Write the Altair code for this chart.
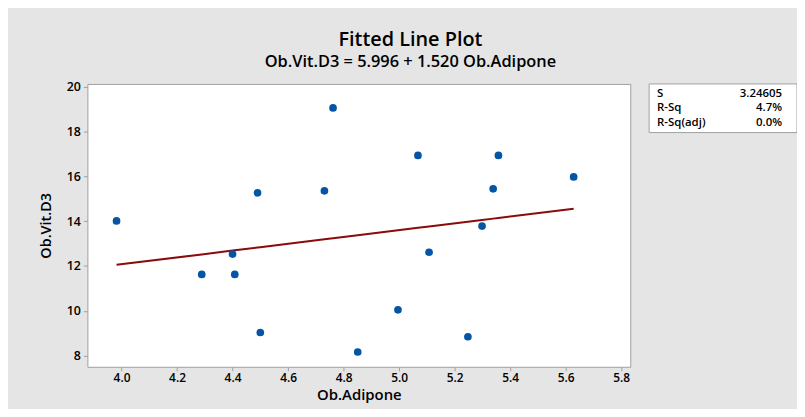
import altair as alt
import pandas as pd

# Data
adipone = [3.982, 4.289, 4.400, 4.408, 4.490, 4.500, 4.731, 4.762, 4.851,
           4.996, 5.068, 5.108, 5.248, 5.299, 5.339, 5.358, 5.629]
vitd3 = [14.01, 11.62, 12.53, 11.62, 15.26, 9.03, 15.35, 19.05, 8.16,
         10.04, 16.93, 12.61, 8.84, 13.78, 15.44, 16.93, 15.97]
intercept = 5.996
slope = 1.520
x_ticks = [4.0, 4.2, 4.4, 4.6, 4.8, 5.0, 5.2, 5.4, 5.6, 5.8]
y_ticks = [8, 10, 12, 14, 16, 18, 20]
stat_labels = ["S", "R-Sq", "R-Sq(adj)"]
stat_values = ["3.24605", "4.7%", "0.0%"]

FONT = "Open Sans"
df = pd.DataFrame({"adipone": adipone, "vitd3": vitd3})

xscale = alt.Scale(domain=[3.877, 5.833], nice=False, zero=False)
yscale = alt.Scale(domain=[7.5, 20.12], nice=False, zero=False)

xaxis = alt.Axis(values=x_ticks, format=".1f", title="Ob.Adipone", grid=False,
                 domain=False, tickColor="#a0a0a0", tickSize=4, labelPadding=2,
                 labelFont=FONT, labelFontSize=12, labelFontWeight=600,
                 labelColor="#000000", titleFont=FONT, titleFontSize=15,
                 titleFontWeight=600, titleColor="#000000", titlePadding=4)
yaxis = alt.Axis(values=y_ticks, format="d", title="Ob.Vit.D3", grid=False,
                 domain=False, tickColor="#a0a0a0", tickSize=4, labelPadding=3,
                 labelFont=FONT, labelFontSize=12.5, labelFontWeight=600,
                 labelColor="#000000", titleFont=FONT, titleFontSize=14.5,
                 titleFontWeight=600, titleColor="#000000", titlePadding=13)

line = alt.Chart(df).transform_calculate(
    fit=f"{intercept} + {slope} * datum.adipone"
).mark_line(color="#8b0a0a", strokeWidth=2).encode(
    x=alt.X("adipone:Q", scale=xscale, axis=xaxis),
    y=alt.Y("fit:Q", scale=yscale, axis=yaxis),
)

points = alt.Chart(df).mark_point(filled=True, size=60, color="#0455a5",
                                  opacity=1).encode(
    x=alt.X("adipone:Q", scale=xscale, axis=xaxis),
    y=alt.Y("vitd3:Q", scale=yscale, axis=yaxis),
)

box_df = pd.DataFrame({"k": [0]})
box = alt.Chart(box_df).mark_rect(fill="white", stroke="#a0a0a0",
                                  strokeWidth=1).encode(
    x=alt.value(566), x2=alt.value(715), y=alt.value(0), y2=alt.value(49)
)

layers = [line, points, box]
row_y = [10, 24.5, 39]
for i, (lab, val) in enumerate(zip(stat_labels, stat_values)):
    d = pd.DataFrame({"label": [lab], "value": [val]})
    layers.append(alt.Chart(d).mark_text(align="left", baseline="middle",
                                         font=FONT, fontSize=11.5, fontWeight=600,
                                         color="#000000").encode(
        x=alt.value(574), y=alt.value(row_y[i]), text="label:N"))
    layers.append(alt.Chart(d).mark_text(align="right", baseline="middle",
                                         font=FONT, fontSize=11.5, fontWeight=600,
                                         color="#000000").encode(
        x=alt.value(700), y=alt.value(row_y[i]), text="value:N"))

chart = alt.layer(*layers).properties(
    width=547,
    height=285,
    autosize=alt.AutoSizeParams(type="none"),
    padding={"left": 80, "top": 75, "right": 168, "bottom": 41},
    background="#e5e5e5",
    title=alt.TitleParams(
        "Fitted Line Plot",
        subtitle="Ob.Vit.D3 = 5.996 + 1.520 Ob.Adipone",
        font=FONT, fontSize=20, fontWeight=600, color="#000000",
        subtitleFont=FONT, subtitleFontSize=16.5, subtitleFontWeight=600,
        subtitleColor="#000000", anchor="middle", dx=52, offset=10,
        subtitlePadding=4,
    ),
).configure_view(stroke="#a0a0a0", strokeWidth=1, fill="white")

chart.save("out.html", embed_options={"renderer": "svg", "actions": False})
